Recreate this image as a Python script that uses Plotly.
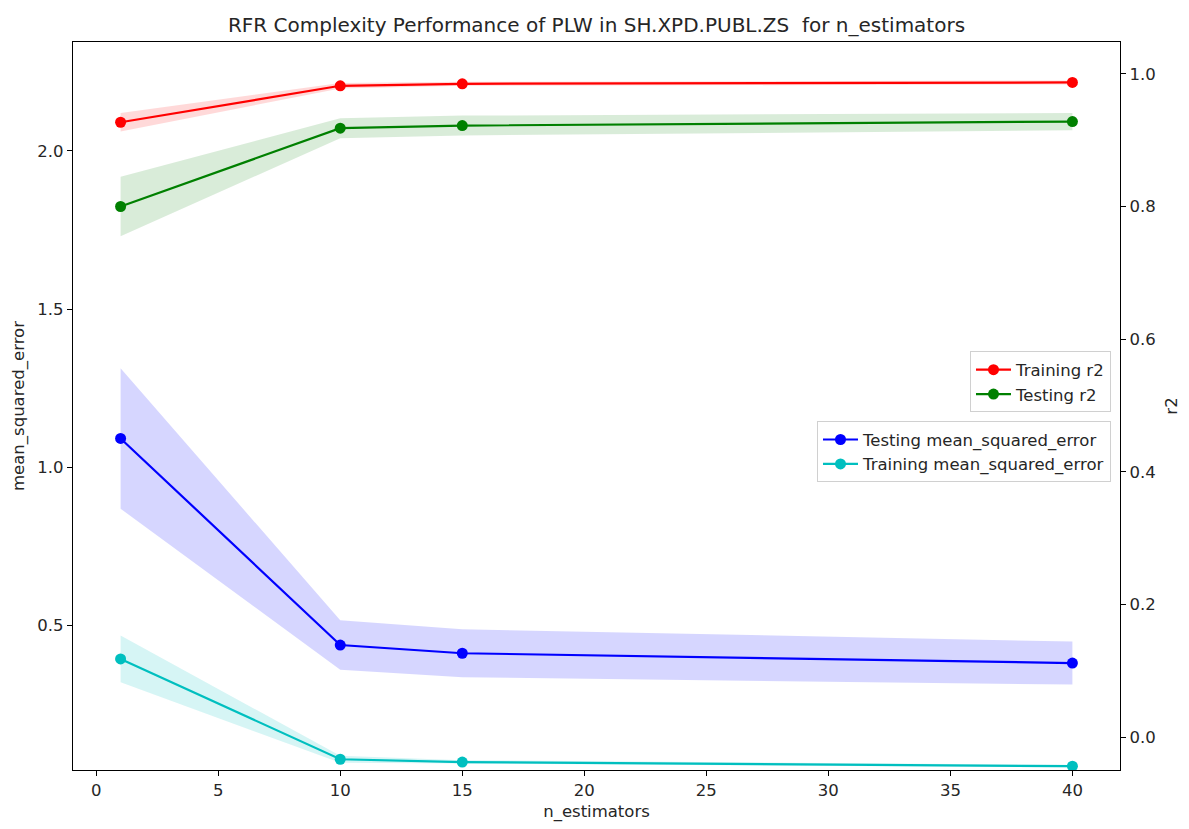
import plotly.graph_objects as go

# ---- data ----
n_estimators = [1, 10, 15, 40]

train_r2 = [0.927, 0.982, 0.985, 0.987]
train_r2_std = [0.014, 0.004, 0.003, 0.003]

test_r2 = [0.800, 0.918, 0.922, 0.928]
test_r2_std = [0.045, 0.015, 0.015, 0.013]

test_mse = [1.091, 0.438, 0.412, 0.381]
test_mse_std = [0.222, 0.078, 0.076, 0.068]

train_mse = [0.394, 0.077, 0.068, 0.055]
train_mse_std = [0.074, 0.011, 0.006, 0.004]

x_ticks = [0, 5, 10, 15, 20, 25, 30, 35, 40]
mse_ticks = [0.5, 1.0, 1.5, 2.0]
r2_ticks = [0.0, 0.2, 0.4, 0.6, 0.8, 1.0]

FONT = "DejaVu Sans"
FS = 16.5
TXT = "#262626"

fig = go.Figure()


def band(x, mean, std, fill, yaxis):
    upper = [m + s for m, s in zip(mean, std)]
    lower = [m - s for m, s in zip(mean, std)]
    fig.add_trace(go.Scatter(
        x=list(x) + list(x)[::-1],
        y=upper + lower[::-1],
        fill="toself", fillcolor=fill, mode="lines",
        line=dict(width=0, color=fill), showlegend=False,
        hoverinfo="skip", yaxis=yaxis))


def line(x, y, color, name, yaxis, legend):
    fig.add_trace(go.Scatter(
        x=x, y=y, mode="lines+markers", name=name,
        line=dict(color=color, width=2.2),
        marker=dict(color=color, size=11),
        yaxis=yaxis, legend=legend))


# MSE on left axis
band(n_estimators, test_mse, test_mse_std, "rgba(0,0,255,0.16)", "y")
band(n_estimators, train_mse, train_mse_std, "rgba(0,191,191,0.16)", "y")
line(n_estimators, test_mse, "#0000FF", "Testing mean_squared_error", "y", "legend2")
line(n_estimators, train_mse, "#00BFBF", "Training mean_squared_error", "y", "legend2")

# r2 on right axis
band(n_estimators, train_r2, train_r2_std, "rgba(255,0,0,0.15)", "y2")
band(n_estimators, test_r2, test_r2_std, "rgba(0,128,0,0.15)", "y2")
line(n_estimators, train_r2, "#FF0000", "Training r2", "y2", "legend")
line(n_estimators, test_r2, "#008000", "Testing r2", "y2", "legend")

axis_common = dict(
    showline=True, linecolor="black", linewidth=1.2,
    ticks="outside", ticklen=5, tickcolor="black", tickwidth=1,
    showgrid=False, zeroline=False,
    tickfont=dict(family=FONT, size=FS, color=TXT),
)

legend_common = dict(
    xanchor="right", yanchor="top",
    bgcolor="rgba(255,255,255,0.8)", bordercolor="#d0d0d0",
    borderwidth=1, font=dict(family=FONT, size=FS, color=TXT),
    tracegroupgap=0, itemwidth=35,
)

fig.update_layout(
    width=1189, height=829,
    margin=dict(l=73, r=69, t=42, b=57),
    paper_bgcolor="white", plot_bgcolor="white",
    font=dict(family=FONT, size=FS, color=TXT),
    title=dict(text="RFR Complexity Performance of PLW in SH.XPD.PUBL.ZS  for n_estimators",
               x=0.5, xref="paper", xanchor="center",
               y=1 - 25 / 829, yref="container", yanchor="middle",
               font=dict(family=FONT, size=20, color=TXT)),
    xaxis=dict(range=[-0.95, 41.95], tickvals=x_ticks, mirror=True,
               title=dict(text="n_estimators", standoff=6,
                          font=dict(family=FONT, size=FS, color=TXT)),
               **axis_common),
    yaxis=dict(range=[0.043, 2.344], tickvals=mse_ticks, tickformat=".1f",
               mirror=True,
               title=dict(text="mean_squared_error", standoff=8,
                          font=dict(family=FONT, size=FS, color=TXT)),
               **axis_common),
    yaxis2=dict(range=[-0.0496, 1.048], tickvals=r2_ticks, tickformat=".1f",
                overlaying="y", side="right",
                title=dict(text="r2", standoff=10,
                           font=dict(family=FONT, size=FS, color=TXT)),
                **axis_common),
    legend=dict(x=0.9914, y=0.575, **legend_common),
    legend2=dict(x=0.9914, y=0.479, **legend_common),
)

fig.write_html("out.html")
